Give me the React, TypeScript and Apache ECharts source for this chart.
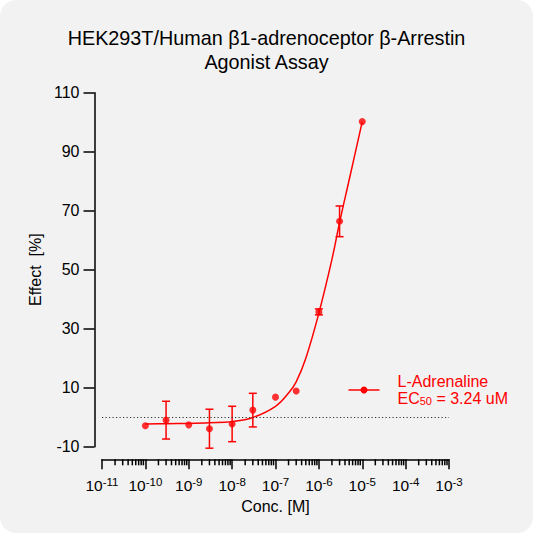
import React, { useEffect, useRef } from "react";
import * as echarts from "echarts";

// measured points (mean ± SD)
const concentrations = [1e-10, 3e-10, 1e-9, 3e-9, 1e-8, 3e-8, 1e-7, 3e-7, 1e-6, 3e-6, 1e-5];
const effectMean = [-2.9, -1.0, -2.6, -3.9, -2.3, 2.4, 6.8, 8.9, 35.7, 66.4, 100.2];
const effectSd = [0, 6.4, 0, 6.6, 6.0, 5.7, 0, 0, 1.0, 5.2, 0];

// fitted curve
const fitConc = [1e-10, 3e-10, 1e-9, 3e-9, 1e-8, 3e-8, 1e-7, 2e-7, 3e-7, 5e-7, 1e-6, 2e-6, 3e-6, 5e-6, 1e-5];
const fitEffect = [-2.3, -2.2, -2.1, -1.9, -1.5, -0.1, 3.7, 8.2, 12.0, 20.0, 35.3, 53.5, 66.0, 80.5, 100.2];

const xDecades = [-11, -10, -9, -8, -7, -6, -5, -4, -3];
const yMin = -10;
const yMax = 110;
const yStep = 20;

const titleLines = ["HEK293T/Human β1-adrenoceptor β-Arrestin", "Agonist Assay"];
const seriesName = "L-Adrenaline";
const ec50Text = "3.24 uM";

const RED = "#FF0000";
const FONT = "Arial, 'Liberation Sans', sans-serif";

const App: React.FC = () => {
    const chartRef = useRef<HTMLDivElement>(null);

    useEffect(() => {
        if (!chartRef.current) return;
        const chart = echarts.init(chartRef.current, undefined, { renderer: "svg" });

        // minor ticks at 2..9 x 10^d
        const minorTicks: number[][] = [];
        for (let i = 0; i < xDecades.length - 1; i++) {
            for (let k = 2; k <= 9; k++) {
                minorTicks.push([k * Math.pow(10, xDecades[i]), yMin]);
            }
        }

        const points = concentrations.map((c, i) => [c, effectMean[i]]);
        const errData = concentrations.map((c, i) => [c, effectMean[i], effectSd[i]]);
        const curve = fitConc.map((c, i) => [c, fitEffect[i]]);

        const option = {
            animation: false,
            backgroundColor: "transparent",
            textStyle: { fontFamily: FONT },
            title: {
                text: titleLines.join("\n"),
                left: "center",
                top: 21,
                textStyle: {
                    fontFamily: FONT,
                    fontSize: 19.8,
                    fontWeight: "normal",
                    color: "#000",
                    lineHeight: 24,
                },
            },
            grid: {
                left: 102,
                right: 84,
                top: 92.7,
                bottom: 86.3,
                containLabel: false,
            },
            xAxis: {
                type: "log",
                logBase: 10,
                min: Math.pow(10, xDecades[0]),
                max: Math.pow(10, xDecades[xDecades.length - 1]),
                offset: 12.6,
                name: "Conc. [M]",
                nameLocation: "middle",
                nameGap: 32,
                nameTextStyle: { fontFamily: FONT, fontSize: 16, color: "#000" },
                axisLine: { onZero: false, lineStyle: { color: "#000", width: 1.5 } },
                axisTick: { length: 10, lineStyle: { color: "#000", width: 1.5 } },
                splitLine: { show: false },
                axisLabel: {
                    margin: 17,
                    color: "#000",
                    formatter: (v: number) => `{b|10}{s|${Math.round(Math.log10(v))}}`,
                    rich: {
                        b: { fontFamily: FONT, fontSize: 15.5, color: "#000", lineHeight: 18 },
                        s: {
                            fontFamily: FONT,
                            fontSize: 11.5,
                            color: "#000",
                            verticalAlign: "top",
                            lineHeight: 11,
                        },
                    },
                },
            },
            yAxis: {
                type: "value",
                min: yMin,
                max: yMax,
                interval: yStep,
                offset: 7.5,
                name: "Effect  [%]",
                nameLocation: "middle",
                nameGap: 50,
                nameTextStyle: { fontFamily: FONT, fontSize: 16, color: "#000" },
                axisLine: { show: true, onZero: false, lineStyle: { color: "#000", width: 1.5 } },
                axisTick: { show: true, length: 11, lineStyle: { color: "#000", width: 1.5 } },
                splitLine: { show: false },
                axisLabel: { margin: 15, fontFamily: FONT, fontSize: 16, color: "#000" },
            },
            series: [
                {
                    name: "minorTicks",
                    type: "custom",
                    silent: true,
                    clip: false,
                    data: minorTicks,
                    encode: { x: 0, y: 1 },
                    renderItem: (_p: any, api: any) => {
                        const pt = api.coord([api.value(0), api.value(1)]);
                        const y0 = pt[1] + 12.6;
                        return {
                            type: "line",
                            shape: { x1: pt[0], y1: y0, x2: pt[0], y2: y0 + 6 },
                            style: { stroke: "#000", lineWidth: 1.5 },
                        };
                    },
                },
                {
                    name: seriesName,
                    type: "line",
                    data: curve,
                    showSymbol: false,
                    smooth: 0.4,
                    lineStyle: { color: RED, width: 1.5 },
                    itemStyle: { color: RED },
                    z: 3,
                    markLine: {
                        silent: true,
                        symbol: "none",
                        label: { show: false },
                        lineStyle: { type: [1.2, 2.3], color: "#333", width: 1.2 },
                        data: [{ yAxis: 0 }],
                    },
                },
                {
                    name: "errors",
                    type: "custom",
                    silent: true,
                    data: errData,
                    encode: { x: 0, y: 1 },
                    z: 4,
                    renderItem: (_p: any, api: any) => {
                        const c = api.value(0);
                        const m = api.value(1);
                        const s = api.value(2);
                        if (!s) return { type: "group", children: [] };
                        const top = api.coord([c, m + s]);
                        const bot = api.coord([c, m - s]);
                        const w = 4;
                        const style = { stroke: RED, lineWidth: 1.5 };
                        return {
                            type: "group",
                            children: [
                                { type: "line", shape: { x1: top[0], y1: top[1], x2: bot[0], y2: bot[1] }, style },
                                { type: "line", shape: { x1: top[0] - w, y1: top[1], x2: top[0] + w, y2: top[1] }, style },
                                { type: "line", shape: { x1: bot[0] - w, y1: bot[1], x2: bot[0] + w, y2: bot[1] }, style },
                            ],
                        };
                    },
                },
                {
                    name: "points",
                    type: "scatter",
                    data: points,
                    symbol: "circle",
                    symbolSize: 7,
                    itemStyle: { color: RED },
                    z: 5,
                },
            ],
            graphic: [
                {
                    type: "group",
                    left: 346,
                    top: 373,
                    children: [
                        {
                            type: "line",
                            shape: { x1: 0, y1: 17.5, x2: 31, y2: 17.5 },
                            style: { stroke: RED, lineWidth: 1.5 },
                        },
                        {
                            type: "circle",
                            shape: { cx: 15.5, cy: 17.5, r: 3.5 },
                            style: { fill: RED },
                        },
                        {
                            type: "text",
                            x: 49,
                            y: 0,
                            style: {
                                text: `{a|${seriesName}}\n{a|EC}{s|50}{a| = ${ec50Text}}`,
                                fill: RED,
                                rich: {
                                    a: { fontFamily: FONT, fontSize: 16, fill: RED, lineHeight: 17 },
                                    s: {
                                        fontFamily: FONT,
                                        fontSize: 11,
                                        fill: RED,
                                        lineHeight: 17,
                                        verticalAlign: "bottom",
                                        padding: [6, 0, 0, 0],
                                    },
                                },
                            },
                        },
                    ],
                },
            ],
        };

        chart.setOption(option as any);

        return () => {
            chart.dispose();
        };
    }, []);

    return (
        <div
            style={{
                position: "fixed",
                left: 0,
                top: 0,
                width: 533,
                height: 533,
                background: "#FFFFFF",
            }}
        >
            <div
                style={{
                    width: 533,
                    height: 533,
                    borderRadius: 16,
                    background: "#F2F2F2",
                    overflow: "hidden",
                }}
            >
                <div ref={chartRef} style={{ width: 533, height: 533 }} />
            </div>
        </div>
    );
};

export default App;
